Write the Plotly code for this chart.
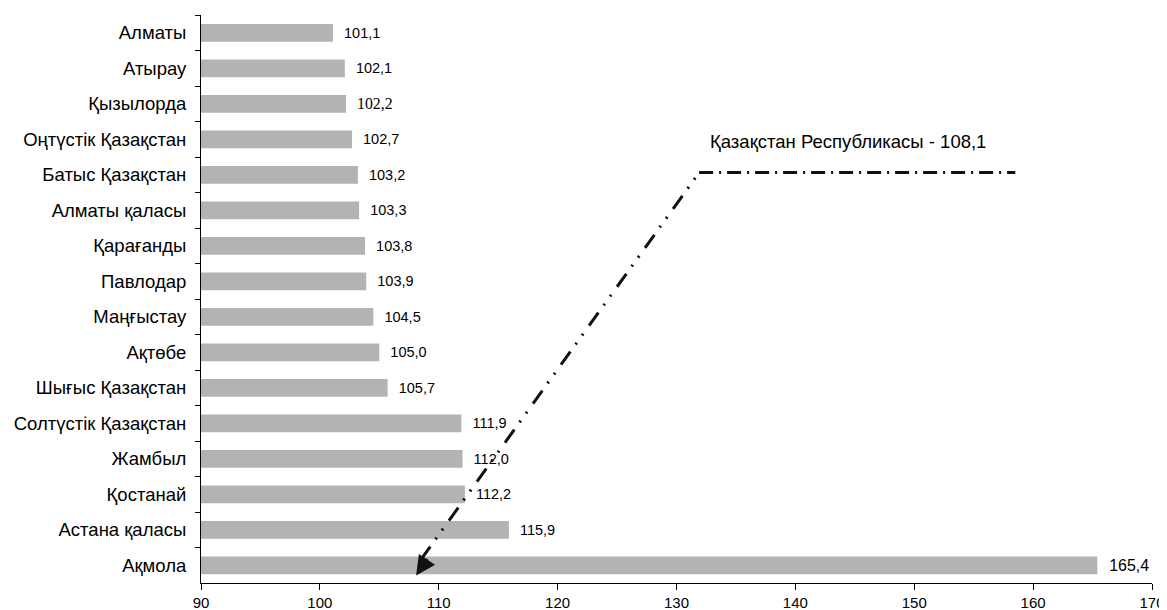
import plotly.graph_objects as go

regions = ["Алматы", "Атырау", "Қызылорда", "Оңтүстік Қазақстан", "Батыс Қазақстан",
           "Алматы қаласы", "Қарағанды", "Павлодар", "Маңғыстау", "Ақтөбе",
           "Шығыс Қазақстан", "Солтүстік Қазақстан", "Жамбыл", "Қостанай",
           "Астана қаласы", "Ақмола"]
values = [101.1, 102.1, 102.2, 102.7, 103.2, 103.3, 103.8, 103.9, 104.5, 105.0,
          105.7, 111.9, 112.0, 112.2, 115.9, 165.4]
x_ticks = [90, 100, 110, 120, 130, 140, 150, 160, 170]
national_label = "Қазақстан Республикасы"
national_value = 108.1

labels = [f"{v:.1f}".replace(".", ",") for v in values]
fam = ["Liberation Serif" if r == "Қызылорда" else "Liberation Sans" for r in regions]
sizes = [18 if r == "Ақмола" else (17 if r == "Қызылорда" else 14.5) for r in regions]
texts = []
for r, l in zip(regions, labels):
    if r == "Қызылорда":
        texts.append("  <span style='font-family:Liberation Serif'>" + l + "</span>")
    else:
        texts.append("  " + l)

fig = go.Figure()
fig.add_trace(go.Bar(
    y=regions, x=[v - 90 for v in values], base=90, orientation="h",
    marker=dict(color="#b3b3b3", line=dict(width=0)),
    width=0.5,
    text=texts, textposition="outside", cliponaxis=False,
    textfont=dict(family=fam, size=sizes, color="#000000"),
    hoverinfo="skip",
))

# callout line: tip at national value, elbow, horizontal
tip_y = 15.29
elbow_x, elbow_y = 131.9, 3.94
end_x = 158.5
fig.add_shape(type="line", xref="x", yref="y", x0=national_value + 0.4, y0=tip_y - 0.45,
              x1=elbow_x, y1=elbow_y,
              line=dict(color="#111111", width=3, dash="16px,9px,2px,9px,2px,10px"))
fig.add_shape(type="line", xref="x", yref="y", x0=elbow_x, y0=elbow_y, x1=end_x, y1=elbow_y,
              line=dict(color="#111111", width=3, dash="14px,6px,2px,6px"))
fig.add_annotation(x=national_value, y=tip_y, xref="x", yref="y", text="",
                   showarrow=True, arrowhead=2, arrowsize=1.3, arrowwidth=3,
                   arrowcolor="#111111", ax=12, ay=-18, standoff=0)
fig.add_annotation(x=144.4, y=3.05, xref="x", yref="y",
                   text=f"{national_label} - {str(national_value).replace('.', ',')}",
                   showarrow=False, font=dict(family="Liberation Sans", size=18.5, color="#000000"))

fig.update_layout(
    width=1159, height=602,
    margin=dict(l=193, r=15, t=7, b=27),
    paper_bgcolor="white", plot_bgcolor="white",
    showlegend=False, bargap=0.5,
    font=dict(family="Liberation Sans", color="#000000"),
    xaxis=dict(range=[90, 170], tickvals=x_ticks, ticktext=[str(t) for t in x_ticks],
               showgrid=False, zeroline=False, showline=True, linecolor="#000000", linewidth=1,
               ticks="outside", ticklen=6, tickcolor="#000000", tickfont=dict(size=15),
               automargin=False),
    yaxis=dict(type="category", categoryorder="array", categoryarray=regions,
               range=[15.5, -0.5], showgrid=False, zeroline=False, showline=True,
               linecolor="#000000", linewidth=1, ticks="outside", ticklen=5,
               tickcolor="#000000", tickson="boundaries", tickfont=dict(size=18.5),
               ticklabelstandoff=10, automargin=False),
)
fig.write_html("out.html")
